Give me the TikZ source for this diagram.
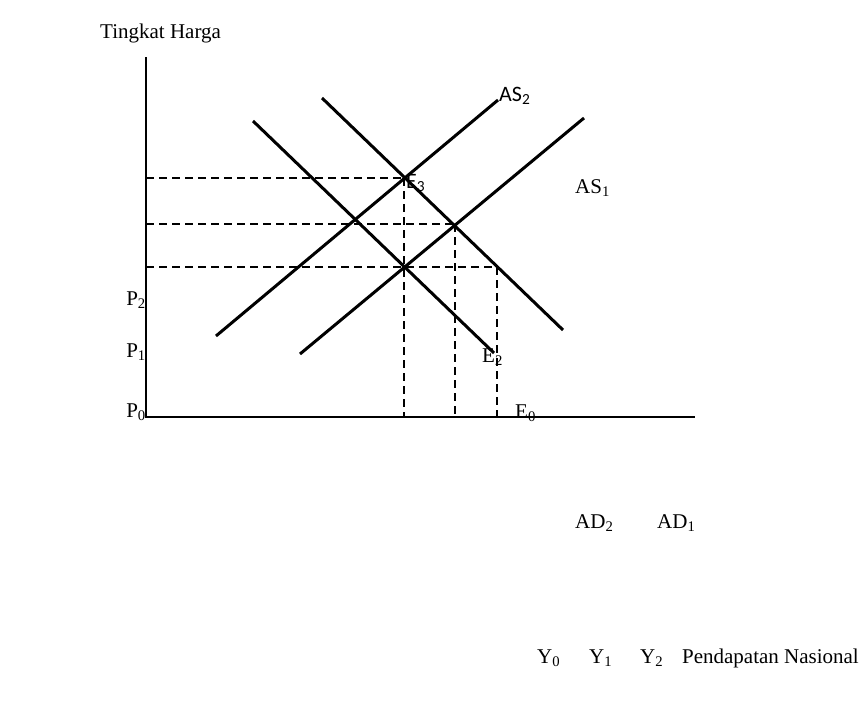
\documentclass[tikz,border=0pt]{standalone}
\usepackage{fontspec}
\setmainfont{Liberation Serif}
\newfontfamily\carlitofont{Carlito}
\begin{document}
\begin{tikzpicture}[x=1pt,y=-1pt,
  curve/.style={line width=3pt},
  axisline/.style={line width=1.7pt},
  guide/.style={line width=1.4pt,dash pattern=on 8pt off 5pt},
  lbl/.style={inner sep=0pt,anchor=west,font=\fontsize{21}{25}\selectfont},
  sanslbl/.style={inner sep=0pt,anchor=west,font=\carlitofont\fontsize{22}{26}\selectfont}]
\useasboundingbox (0,0) rectangle (863,702);
% axes
\coordinate (O) at (146,417);
\coordinate (ytop) at (146,57);
\coordinate (xend) at (695,417);
\draw[axisline] (ytop) -- (O) -- (xend);
% curve end points
\coordinate (ad1a) at (322,98);
\coordinate (ad1b) at (563,330);
\coordinate (ad2a) at (253,121);
\coordinate (ad2b) at (494,353);
\coordinate (as2a) at (216,336);
\coordinate (as2b) at (498,100);
\coordinate (as1a) at (300,354);
\coordinate (as1b) at (584,118);
% intersection points
\coordinate (e3) at (404,178);
\coordinate (e2) at (455,224);
\coordinate (e0) at (404,267);
\coordinate (e1) at (497,267);
\coordinate (h1) at (146,178);
\coordinate (h2) at (146,224);
\coordinate (h3) at (146,267);
\coordinate (v1) at (404,417);
\coordinate (v2) at (455,417);
\coordinate (v3) at (497,417);
% guides
\draw[guide] (h1) -- (e3);
\draw[guide] (h2) -- (e2);
\draw[guide] (h3) -- (e1);
\draw[guide] (e3) -- (v1);
\draw[guide] (e2) -- (v2);
\draw[guide] (e1) -- (v3);
% curves
\draw[curve] (ad1a) -- (ad1b);
\draw[curve] (ad2a) -- (ad2b);
\draw[curve] (as2a) -- (as2b);
\draw[curve] (as1a) -- (as1b);
% labels
\node[lbl] (ty) at (100,33) {Tingkat Harga};
\node[sanslbl] (las2) at (499,96) {AS\textsubscript{2}};
\node[sanslbl] (le3) at (406,183) {E\textsubscript{3}};
\node[lbl] (las1) at (575,188) {AS\textsubscript{1}};
\node[lbl,anchor=east] (lp2) at (146,300) {P\textsubscript{2}};
\node[lbl,anchor=east] (lp1) at (146,352) {P\textsubscript{1}};
\node[lbl,anchor=east] (lp0) at (146,412) {P\textsubscript{0}};
\node[lbl] (le2) at (482,357) {E\textsubscript{2}};
\node[lbl] (le0) at (515,413) {E\textsubscript{0}};
\node[lbl] (lad2) at (575,523) {AD\textsubscript{2}};
\node[lbl] (lad1) at (657,523) {AD\textsubscript{1}};
\node[lbl] (ly0) at (537,658) {Y\textsubscript{0}};
\node[lbl] (ly1) at (589,658) {Y\textsubscript{1}};
\node[lbl] (ly2) at (640,658) {Y\textsubscript{2}};
\node[lbl,anchor=east] (lpn) at (859,658) {Pendapatan Nasional};
\end{tikzpicture}
\end{document}
